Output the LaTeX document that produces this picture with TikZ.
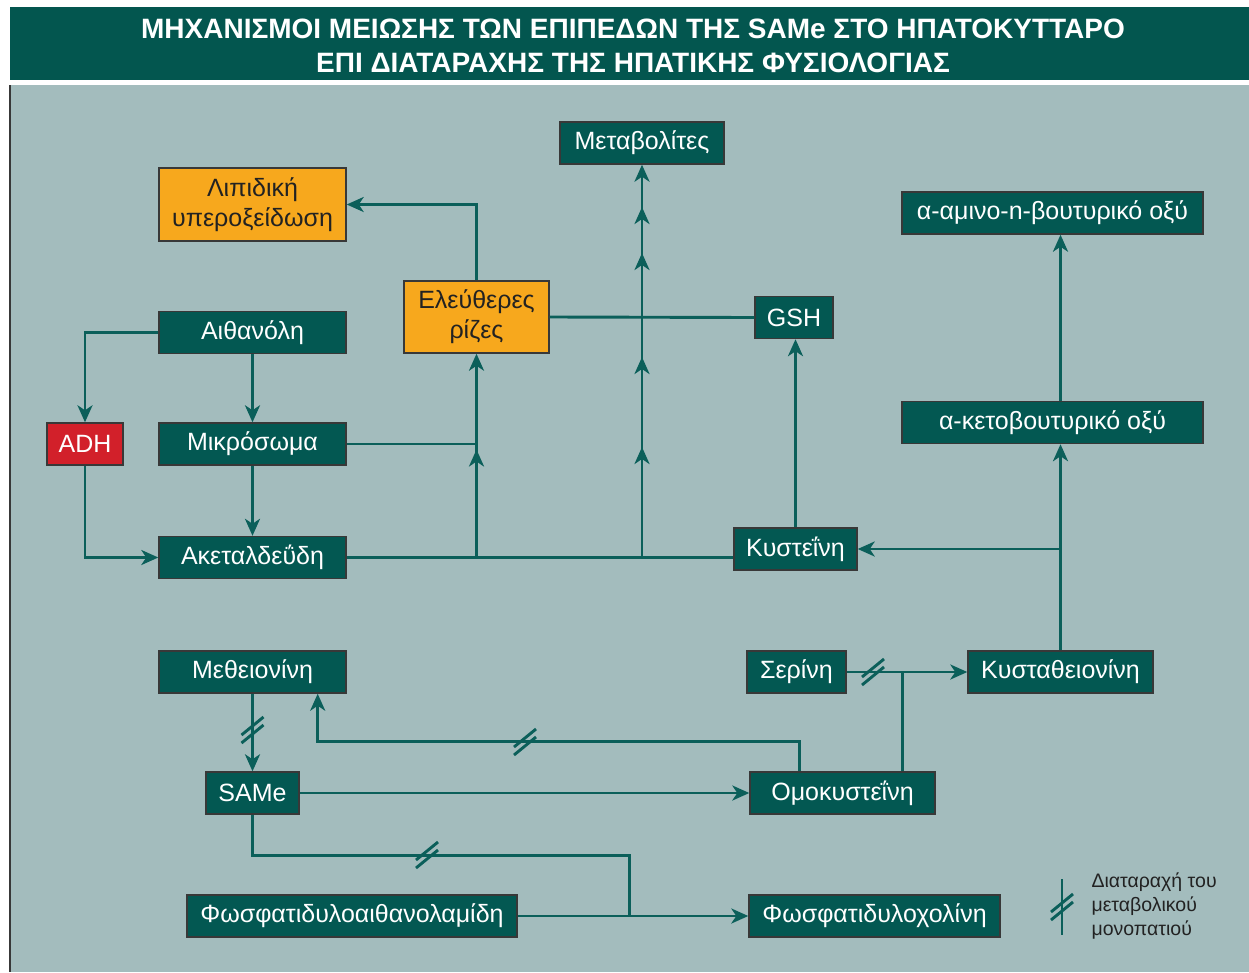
\documentclass[tikz,border=0pt]{standalone}
\usepackage{fontspec}
\setmainfont{Liberation Sans}
\newfontfamily\titlefont{Liberation Sans}
\usetikzlibrary{arrows.meta}
\definecolor{bar}{HTML}{03564F}
\definecolor{panel}{HTML}{A3BCBD}
\definecolor{boxteal}{HTML}{035852}
\definecolor{flowc}{HTML}{0B5F5A}
\definecolor{amber}{HTML}{F7A81D}
\definecolor{adhred}{HTML}{D2202A}
\definecolor{edge}{HTML}{383838}
\definecolor{ink}{HTML}{222222}

\begin{document}
\begin{tikzpicture}[x=1pt,y=-1pt,>={Stealth[length=17pt,width=15pt,inset=5pt]},
  box/.style={draw=edge,line width=1.4pt,fill=boxteal,text=white,minimum height=42pt,inner sep=0pt,
    font=\fontsize{25}{30}\selectfont,align=center},
  obox/.style={box,fill=amber,text=ink,minimum height=73pt},
  rbox/.style={box,fill=adhred},
  flow/.style={draw=flowc,line width=2.9pt},
  cut/.pic={\draw[flow] (-11,5) -- (11,-13) (-11,13) -- (11,-5);}]
  \useasboundingbox (0,0) rectangle (1249,972);
  \fill[white] (0,0) rectangle (1249,972);
  \fill[bar] (10,7) rectangle (1249,80);
  \fill[panel] (10,85) rectangle (1249,972);
  \draw[edge,line width=1.5pt] (10,85) -- (10,972);
  \node[text=white,font=\titlefont\bfseries\fontsize{28}{34}\selectfont,align=center] (title) at (633,46)
    {ΜΗΧΑΝΙΣΜΟΙ ΜΕΙΩΣΗΣ ΤΩΝ ΕΠΙΠΕΔΩΝ ΤΗΣ SAMe ΣΤΟ ΗΠΑΤΟΚΥΤΤΑΡΟ\\ΕΠΙ ΔΙΑΤΑΡΑΧΗΣ ΤΗΣ ΗΠΑΤΙΚΗΣ ΦΥΣΙΟΛΟΓΙΑΣ};

  \node[box,minimum width=164pt] (met) at (642,143) {Μεταβολίτες};
  \node[obox,minimum width=187pt] (lip) at (252.5,204.5) {Λιπιδική\\υπεροξείδωση};
  \node[box,minimum width=301pt] (amino) at (1052.5,213) {α-αμινο-n-βουτυρικό οξύ};
  \node[obox,minimum width=145pt,minimum height=72pt] (rad) at (476.5,317) {Ελεύθερες\\ρίζες};
  \node[box,minimum width=78pt] (gsh) at (794,317.5) {GSH};
  \node[box,minimum width=187pt] (eth) at (252.5,332.5) {Αιθανόλη};
  \node[rbox,minimum width=76pt] (adh) at (85,444) {ADH};
  \node[box,minimum width=187pt] (mic) at (252.5,444) {Μικρόσωμα};
  \node[box,minimum width=301pt] (keto) at (1052.5,422.5) {α-κετοβουτυρικό οξύ};
  \node[box,minimum width=187pt] (ald) at (252.5,557.5) {Ακεταλδεΰδη};
  \node[box,minimum width=123pt] (cys) at (795.5,549) {Κυστεΐνη};
  \node[box,minimum width=187pt] (mth) at (252.5,672) {Μεθειονίνη};
  \node[box,minimum width=99pt] (ser) at (796.5,672) {Σερίνη};
  \node[box,minimum width=185pt] (cth) at (1060.5,672) {Κυσταθειονίνη};
  \node[box,minimum width=93pt] (same) at (252.5,793) {SAMe};
  \node[box,minimum width=185pt] (hcy) at (842.5,793) {Ομοκυστεΐνη};
  \node[box,minimum width=330pt] (pe) at (352,916) {Φωσφατιδυλοαιθανολαμίδη};
  \node[box,minimum width=251pt] (pc) at (874.5,916) {Φωσφατιδυλοχολίνη};

  \draw[flow,->] (eth.west) -| (adh.north);
  \draw[flow,->] (eth.south) -- (mic.north);
  \draw[flow,->] (mic.south) -- (ald.north);
  \draw[flow,->] (adh.south) |- (ald.west);
  \draw[flow] (ald.east) -- (ald.east -| cys.west);

  \coordinate (jr) at (ald.east -| rad.south);
  \coordinate (jm) at (ald.east -| met.south);
  \draw[flow] (mic.east) -- (mic.east -| rad.south);
  \draw[flow,->] (jr) -- ++(0,-108);
  \draw[flow,->] (jr) -- (rad.south);
  \foreach \y in {447,357,253,207}
    \draw[flow,->] (jm) -- (jm |- 0,\y);
  \draw[flow,->] (jm) -- (met.south);
  \draw[flow] (rad.east) -- (gsh.west);
  \draw[flow,->] (rad.north) |- (lip.east);
  \draw[flow,->] (cys.north) -- (cys.north |- gsh.south);

  \draw[flow,->] (cth.north) -- (cth.north |- keto.south);
  \draw[flow,->] (cth.north |- keto.north) -- (cth.north |- amino.south);
  \draw[flow,->] (cth.north |- cys.east) -- (cys.east);

  \draw[flow,->] (ser.east) -- (cth.west);
  \coordinate (hj) at ([xshift=-33pt]hcy.north east);
  \draw[flow] (hj) -- (hj |- ser.east);
  \coordinate (hl) at ([xshift=50pt]hcy.north west);
  \coordinate (ml) at ([xshift=-29pt]mth.south east);
  \draw[flow,->] (hl) -- ++(0,-30) -| (ml);
  \draw[flow,->] (mth.south) -- (same.north);
  \draw[flow,->] (same.east) -- (hcy.west);
  \path (pe.east) -- (pc.west) coordinate[pos=0.483] (pj);
  \draw[flow] (same.south) -- ++(0,41) -| (pj);
  \draw[flow,->] (pe.east) -- (pc.west);

  \pic at (873,672) {cut};
  \pic at (252.5,730) {cut};
  \pic at (525,742) {cut};
  \pic at (427,855) {cut};

  \draw[flow] (1062,879) -- (1062,935);
  \pic at (1062,907) {cut};
  \node[anchor=west,align=left,text=ink,font=\fontsize{19.5}{24}\selectfont] (legend) at (1088,906)
    {Διαταραχή του\\μεταβολικού\\μονοπατιού};
\end{tikzpicture}
\end{document}
